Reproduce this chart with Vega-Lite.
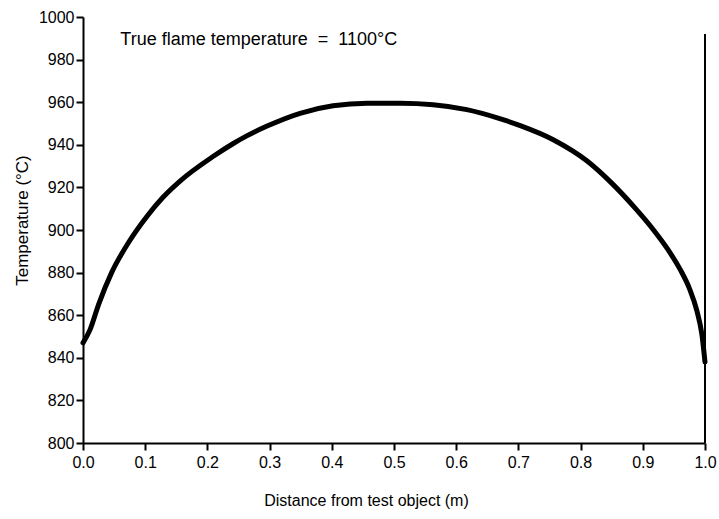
{
  "$schema": "https://vega.github.io/schema/vega-lite/v6.json",
  "width": 622,
  "height": 426,
  "autosize": {"type": "none"},
  "padding": {"left": 83, "top": 17, "right": 14, "bottom": 76},
  "background": "white",
  "config": {
    "view": {"stroke": null},
    "font": "Liberation Sans",
    "axis": {
      "grid": false,
      "domainColor": "black",
      "domainWidth": 2,
      "tickColor": "black",
      "tickWidth": 2,
      "tickSize": 7,
      "labelColor": "black",
      "labelFontSize": 16,
      "labelFlush": false,
      "titleColor": "black",
      "titleFontSize": 16,
      "titleFontWeight": "normal",
      "labelFont": "Liberation Sans",
      "titleFont": "Liberation Sans"
    }
  },
  "datasets": {
    "curve": [
      {"distance": 0.0, "temperature": 847},
      {"distance": 0.011, "temperature": 853},
      {"distance": 0.025, "temperature": 865},
      {"distance": 0.046, "temperature": 880},
      {"distance": 0.074, "temperature": 894.5},
      {"distance": 0.103, "temperature": 906.5},
      {"distance": 0.129, "temperature": 915.5},
      {"distance": 0.156, "temperature": 923},
      {"distance": 0.209, "temperature": 934.5},
      {"distance": 0.241, "temperature": 940.5},
      {"distance": 0.264, "temperature": 944.3},
      {"distance": 0.296, "temperature": 948.8},
      {"distance": 0.349, "temperature": 954.8},
      {"distance": 0.402, "temperature": 958.3},
      {"distance": 0.457, "temperature": 959.5},
      {"distance": 0.51, "temperature": 959.5},
      {"distance": 0.563, "temperature": 958.8},
      {"distance": 0.617, "temperature": 956.5},
      {"distance": 0.67, "temperature": 952.3},
      {"distance": 0.703, "temperature": 949.0},
      {"distance": 0.756, "temperature": 942.4},
      {"distance": 0.81, "temperature": 932.5},
      {"distance": 0.85, "temperature": 922},
      {"distance": 0.887, "temperature": 910.5},
      {"distance": 0.916, "temperature": 900.5},
      {"distance": 0.94, "temperature": 891},
      {"distance": 0.96, "temperature": 881.5},
      {"distance": 0.975, "temperature": 872.5},
      {"distance": 0.987, "temperature": 862},
      {"distance": 0.995, "temperature": 851},
      {"distance": 1.0, "temperature": 838}
    ],
    "wall": [
      {"distance": 1.0, "low": 800, "high": 992}
    ],
    "note": [
      {"distance": 0.06, "temperature": 989, "label": "True flame temperature \u00a0=\u00a0 1100°C"}
    ]
  },
  "layer": [
    {
      "data": {"name": "wall"},
      "mark": {"type": "rule", "color": "black", "strokeWidth": 2},
      "encoding": {
        "x": {"field": "distance", "type": "quantitative", "scale": {"domain": [0, 1]}},
        "y": {"field": "low", "type": "quantitative", "scale": {"domain": [800, 1000]}},
        "y2": {"field": "high"}
      }
    },
    {
      "data": {"name": "curve"},
      "mark": {"type": "line", "color": "black", "strokeWidth": 5, "interpolate": "monotone", "strokeCap": "round"},
      "encoding": {
        "x": {
          "field": "distance",
          "type": "quantitative",
          "scale": {"domain": [0, 1], "nice": false},
          "axis": {
            "values": [0, 0.1, 0.2, 0.3, 0.4, 0.5, 0.6, 0.7, 0.8, 0.9, 1.0],
            "format": ".1f",
            "labelPadding": 4,
            "title": "Distance from test object (m)",
            "titleX": 283,
            "titleY": 57,
            "titleAlign": "center",
            "titleBaseline": "middle"
          }
        },
        "y": {
          "field": "temperature",
          "type": "quantitative",
          "scale": {"domain": [800, 1000], "nice": false, "zero": false},
          "axis": {
            "values": [800, 820, 840, 860, 880, 900, 920, 940, 960, 980, 1000],
            "format": "d",
            "labelPadding": 2,
            "title": "Temperature (°C)",
            "titleFontSize": 17,
            "titleX": -61,
            "titleY": 203,
            "titleAngle": -90,
            "titleAlign": "center",
            "titleBaseline": "middle"
          }
        }
      }
    },
    {
      "data": {"name": "note"},
      "mark": {"type": "text", "align": "left", "baseline": "middle", "fontSize": 18, "color": "black", "font": "Liberation Sans"},
      "encoding": {
        "x": {"field": "distance", "type": "quantitative"},
        "y": {"field": "temperature", "type": "quantitative"},
        "text": {"field": "label"}
      }
    }
  ]
}
